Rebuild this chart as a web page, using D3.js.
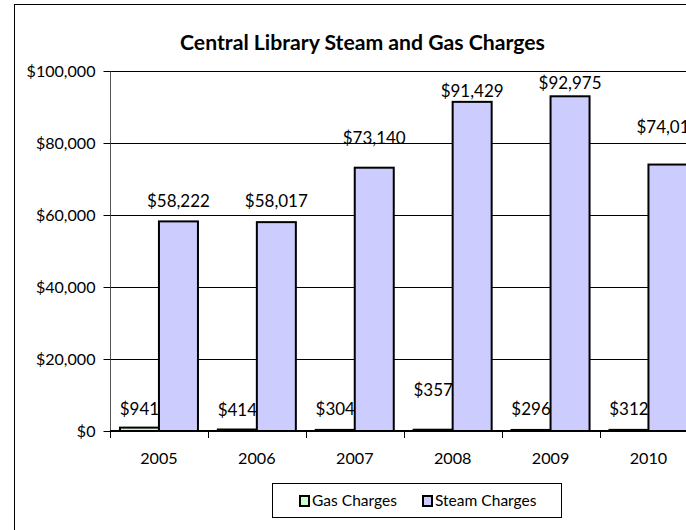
<!DOCTYPE html>
<html><head><meta charset="utf-8">
<script src="https://cdn.jsdelivr.net/npm/d3@7"></script>
<style>body{margin:0;background:#fff}svg{display:block}text{font-family:Lato,"Open Sans",sans-serif;fill:#000}</style>
</head><body><svg id="c" width="686" height="530"></svg>
<script>
const years = ["2005","2006","2007","2008","2009","2010"];
const gasCharges = [941, 414, 304, 357, 296, 312];
const steamCharges = [58222, 58017, 73140, 91429, 92975, 74014];
const seriesNames = ["Gas Charges", "Steam Charges"];
const yTicks = [0, 20000, 40000, 60000, 80000, 100000];
const titleText = "Central Library Steam and Gas Charges";

const colors = {gas: "#CCFFCC", steam: "#CCCCFF"};
// label lift (px above bar top) as placed in the original
const steamLift = [14, 15, 24, 5, 7, 32];
const gasLift = [13, 14, 15, 34, 15, 15];

const svg = d3.select("#c");
svg.append("rect").attr("width",686).attr("height",530).attr("fill","#fff");

function fitSize(str, weight, target){
  const t = svg.append("text").attr("font-size",20).attr("font-weight",weight).text(str);
  const w = t.node().getComputedTextLength(); t.remove();
  return 20*target/w;
}
const fsTitle = fitSize(titleText, "bold", 365);
const fsTick = fitSize("$100,000", "normal", 69);
const fsLabel = fitSize("$58,222", "normal", 63);
const fsX = fitSize("2005", "normal", 37.5);
const fsLeg = fitSize("Gas Charges", "normal", 85);

// outer chart border
svg.append("rect").attr("x",14.5).attr("y",4.5).attr("width",900).attr("height",700)
  .attr("fill","none").attr("stroke","#000").attr("stroke-width",1);

const left = 110, step = 97.9;
const x = d3.scaleBand().domain(years).range([left, left + step*years.length]).padding(0);
const x1 = d3.scaleBand().domain(["gas","steam"]).range([0, x.bandwidth()]).paddingInner(0).paddingOuter(0.255);
const y = d3.scaleLinear().domain([0, 100000]).range([431, 71]);

// gridlines
svg.append("g").selectAll("line").data(yTicks.filter(d=>d>0)).join("line")
  .attr("x1", left).attr("x2", left + step*years.length + 5)
  .attr("y1", d=>Math.round(y(d))+0.5).attr("y2", d=>Math.round(y(d))+0.5)
  .attr("stroke","#000").attr("stroke-width",1);

// y axis
const ya = svg.append("g").attr("transform",`translate(${left+0.5},0)`)
  .call(d3.axisLeft(y).tickValues(yTicks).tickSize(7).tickPadding(8).tickFormat(d=>"$"+d3.format(",")(d)));
ya.select(".domain").attr("stroke","#555").attr("d",`M0,${y(100000)}V${y(0)}`);
ya.selectAll(".tick line").attr("stroke","#000");
ya.selectAll(".tick text").attr("font-size",fsTick).attr("font-family","Lato").attr("fill","#000").attr("dy","0.36em");
ya.selectAll(".tick").attr("transform", d=>`translate(0,${Math.round(y(d))+0.5})`);

// bars
const groups = svg.append("g").selectAll("g").data(years).join("g")
  .attr("transform", d=>`translate(${x(d)},0)`);
groups.append("rect").attr("x", x1("gas")).attr("width", x1.bandwidth())
  .attr("y", (d,i)=>y(gasCharges[i])).attr("height",(d,i)=>y(0)-y(gasCharges[i]))
  .attr("fill", colors.gas).attr("stroke","#000").attr("stroke-width",2);
groups.append("rect").attr("x", x1("steam")).attr("width", x1.bandwidth())
  .attr("y", (d,i)=>y(steamCharges[i])).attr("height",(d,i)=>y(0)-y(steamCharges[i]))
  .attr("fill", colors.steam).attr("stroke","#000").attr("stroke-width",2);

// data labels
const fmt = d=>"$"+d3.format(",")(d);
groups.append("text").attr("text-anchor","middle").attr("font-size",fsLabel)
  .attr("x", x1("gas")+x1.bandwidth()/2).attr("y",(d,i)=>y(gasCharges[i])-gasLift[i])
  .text((d,i)=>fmt(gasCharges[i]));
groups.append("text").attr("text-anchor","middle").attr("font-size",fsLabel)
  .attr("x", x1("steam")+x1.bandwidth()/2).attr("y",(d,i)=>y(steamCharges[i])-steamLift[i])
  .text((d,i)=>fmt(steamCharges[i]));

// x axis
const xa = svg.append("g").attr("transform",`translate(0,${y(0)})`)
  .call(d3.axisBottom(x).tickSize(0).tickPadding(22));
xa.select(".domain").attr("stroke","#000").attr("stroke-width",2).attr("d",`M${left},0H${left+step*years.length+5}`);
xa.selectAll(".tick text").attr("font-size",fsX).attr("font-family","Lato").attr("fill","#000");
svg.append("g").selectAll("line").data(d3.range(years.length+1)).join("line")
  .attr("x1", i=>Math.round(left+i*step)+0.5).attr("x2", i=>Math.round(left+i*step)+0.5)
  .attr("y1", y(0)).attr("y2", y(0)+7).attr("stroke","#000");

// title
svg.append("text").attr("x",362.5).attr("y",50).attr("text-anchor","middle")
  .attr("font-weight","bold").attr("font-size",fsTitle).text(titleText);

// legend
svg.append("rect").attr("x",272.5).attr("y",483.5).attr("width",289).attr("height",34)
  .attr("fill","#fff").attr("stroke","#000");
const legX = [300, 423];
const leg = svg.append("g").selectAll("g").data(seriesNames).join("g")
  .attr("transform",(d,i)=>`translate(${legX[i]},496)`);
leg.append("rect").attr("width",9).attr("height",10)
  .attr("fill",(d,i)=>i===0?colors.gas:colors.steam).attr("stroke","#000").attr("stroke-width",2);
leg.append("text").attr("x",12).attr("y",10).attr("font-size",fsLeg).text(d=>d);
</script></body></html>
